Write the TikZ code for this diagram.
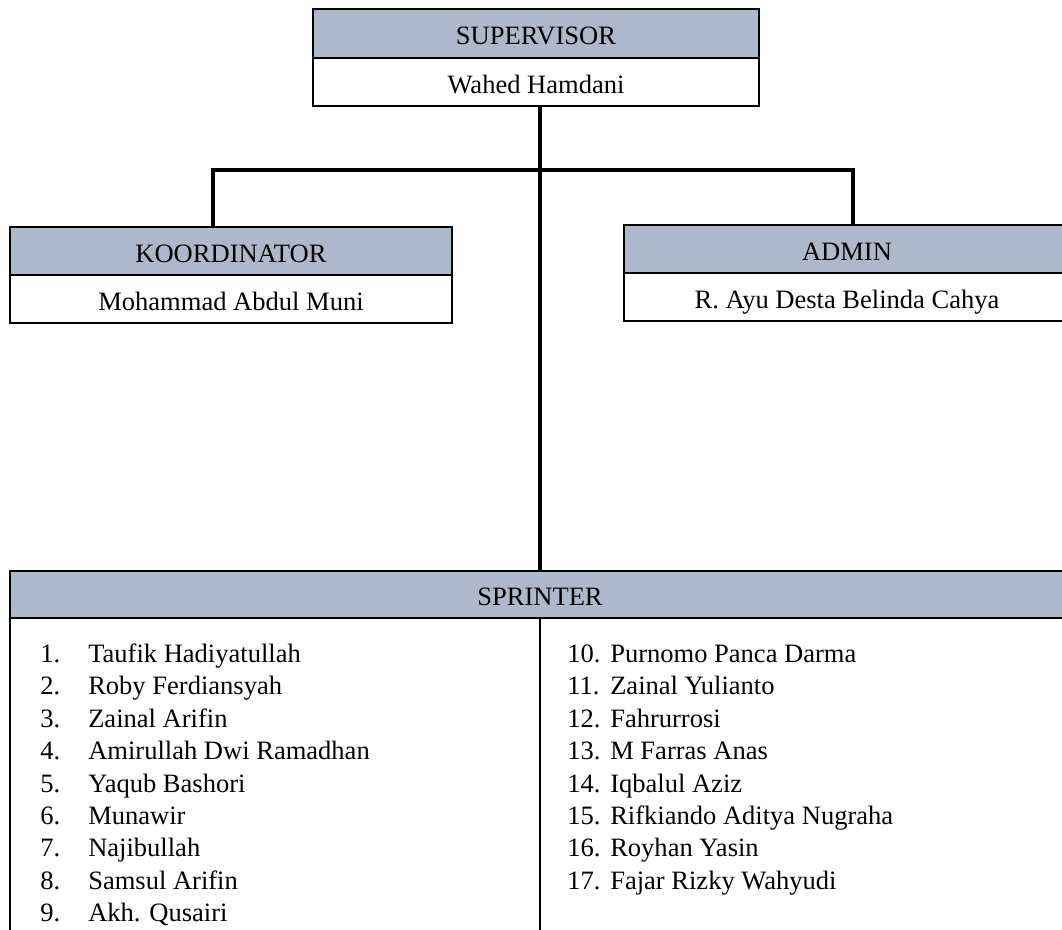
\documentclass[tikz,border=0pt]{standalone}
\usepackage{fontspec}
\setmainfont{Liberation Serif}
\definecolor{headblue}{HTML}{ADB9CA}
\begin{document}
\begin{tikzpicture}[x=0.75pt,y=-0.75pt,
  every node/.style={font=\fontsize{19.9pt}{24.3pt}\selectfont},
  boxbase/.style={draw=black, line width=2.2pt, rectangle, inner sep=0pt, outer sep=0pt,
    text height=17.1pt, text depth=0pt},
  headbox/.style={boxbase, fill=headblue},
  bodybox/.style={boxbase, fill=white},
  link/.style={draw=black, line width=2.6pt},
  listtext/.style={inner sep=0pt, anchor=base west}]
\useasboundingbox (0,0) rectangle (1062,929);

% Supervisor
\node[headbox, minimum width=334.5pt, minimum height=36.75pt, anchor=north west] (suph) at (313,9) {SUPERVISOR};
\node[bodybox, minimum width=334.5pt, minimum height=36pt, anchor=north] (supb) at (suph.south) {Wahed Hamdani};

% Koordinator
\node[headbox, minimum width=331.5pt, minimum height=36pt, anchor=north west] (korh) at (10,227) {KOORDINATOR};
\node[bodybox, minimum width=331.5pt, minimum height=36pt, anchor=north] (korb) at (korh.south) {Mohammad Abdul Muni};

% Admin
\node[headbox, minimum width=334.5pt, minimum height=36pt, anchor=north west] (admh) at (624,225) {ADMIN};
\node[bodybox, minimum width=334.5pt, minimum height=36pt, anchor=north] (admb) at (admh.south) {R. Ayu Desta Belinda Cahya};

% Sprinter
\node[headbox, minimum width=795pt, minimum height=35.25pt, anchor=north west] (sprh) at (10,571) {SPRINTER};
\coordinate (divtop) at (540,618);
\coordinate (leftbot) at (10,940);
\coordinate (divbot) at (540,940);
\draw[link, line width=2.2pt] (sprh.south west) -- (leftbot);
\draw[link, line width=2.2pt] (divtop) -- (divbot);

% Connectors
\coordinate (kc) at (213,170);
\coordinate (ac) at (853,170);
\draw[link] (divtop |- supb.south) -- (divtop |- sprh.north);
\draw[link] (kc |- korh.north) -- (kc) -- (ac) -- (ac |- admh.north);

% Lists
\renewcommand{\arraystretch}{1}
\node[listtext] (sprl) at (40,662.5) {\begin{tabular}[t]{@{}p{36pt}@{}l@{}}
1. & Taufik Hadiyatullah\\
2. & Roby Ferdiansyah\\
3. & Zainal Arifin\\
4. & Amirullah Dwi Ramadhan\\
5. & Yaqub Bashori\\
6. & Munawir\\
7. & Najibullah\\
8. & Samsul Arifin\\
9. & Akh. Qusairi
\end{tabular}};
\node[listtext] (sprr) at (567,662.5) {\begin{tabular}[t]{@{}p{32.25pt}@{}l@{}}
10. & Purnomo Panca Darma\\
11. & Zainal Yulianto\\
12. & Fahrurrosi\\
13. & M Farras Anas\\
14. & Iqbalul Aziz\\
15. & Rifkiando Aditya Nugraha\\
16. & Royhan Yasin\\
17. & Fajar Rizky Wahyudi
\end{tabular}};
\end{tikzpicture}
\end{document}
